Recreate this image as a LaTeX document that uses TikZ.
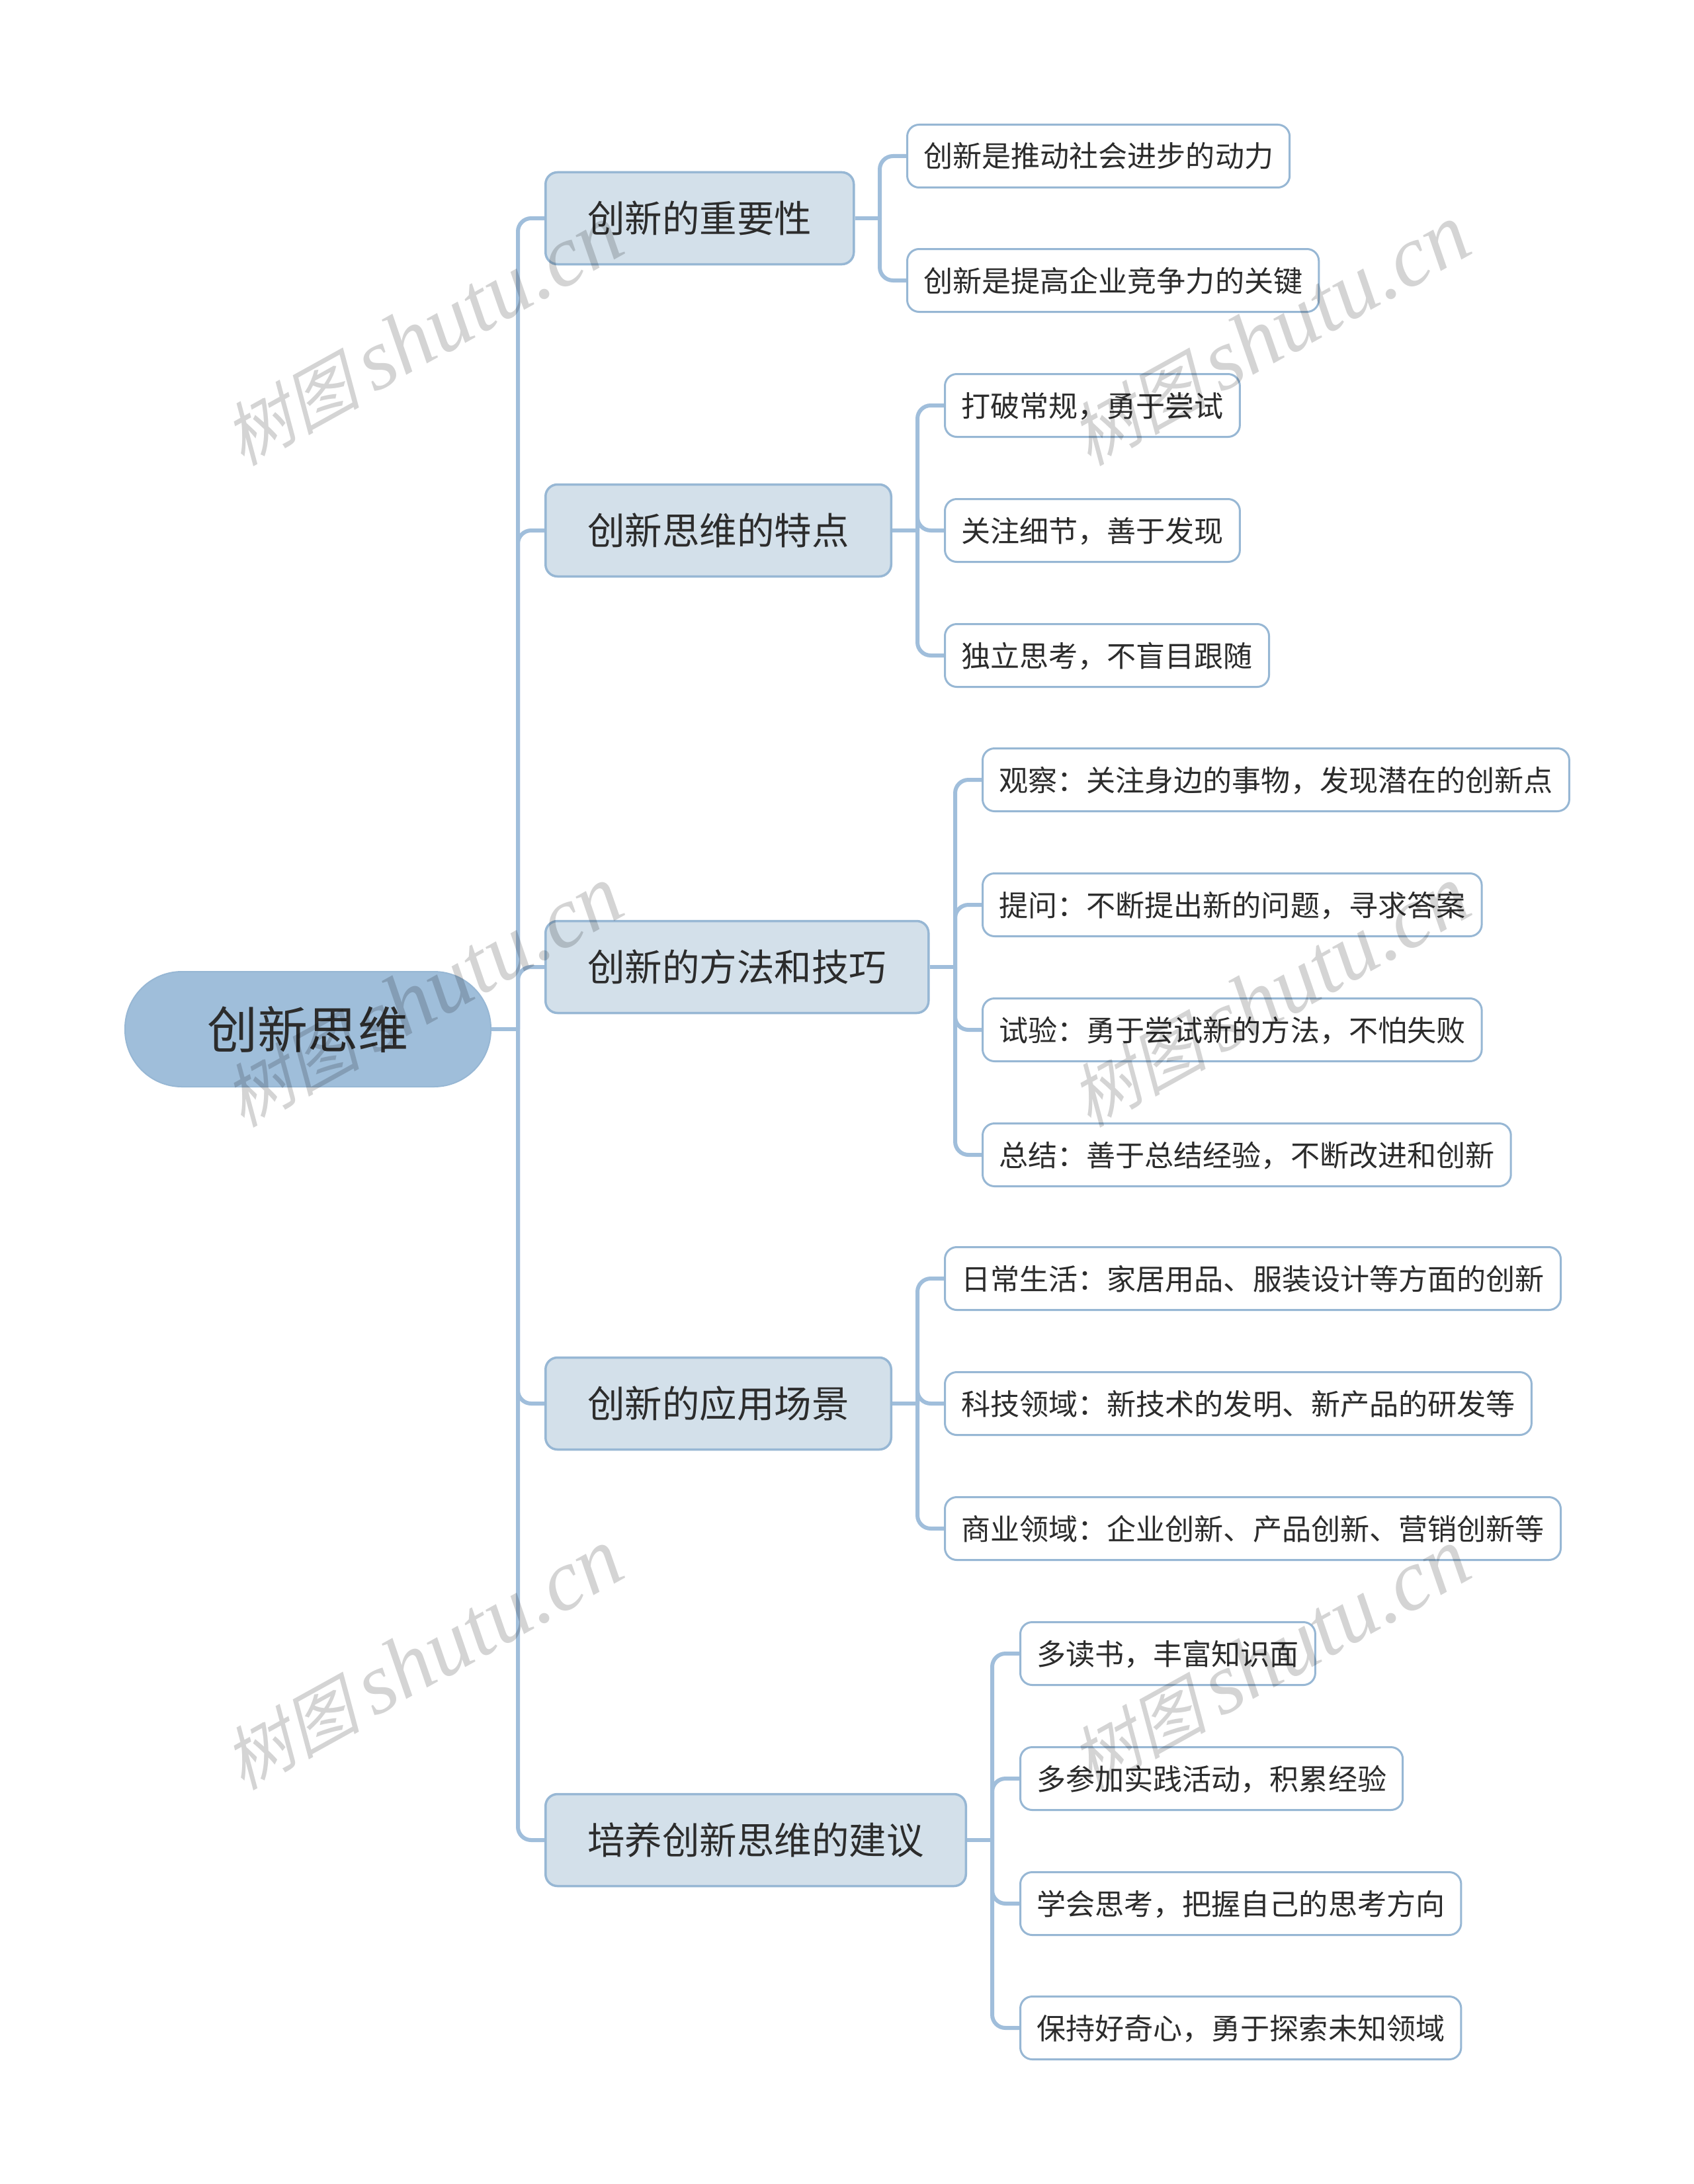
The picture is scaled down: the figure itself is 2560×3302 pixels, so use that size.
\documentclass[tikz,border=0pt]{standalone}
\usepackage{fontspec}
\setmainfont{Noto Sans CJK SC}
\newfontfamily\wmcjk[FakeSlant=0.25]{Noto Sans CJK SC}
\newfontfamily\wmlat{Liberation Serif}
\definecolor{linec}{HTML}{A0BEDB}
\definecolor{rootf}{HTML}{9FBEDA}
\definecolor{midf}{HTML}{D3E0EA}
\definecolor{bordc}{HTML}{97B7D4}
\definecolor{txtc}{HTML}{2C2C2C}
\tikzset{
  rootbox/.style={draw=bordc,line width=2pt,fill=rootf,rounded corners=86pt,minimum width=553pt,minimum height=174pt,inner sep=0pt,text=txtc,font=\fontsize{76}{76}\selectfont,text height=67pt,text depth=9pt},
  midbox/.style={draw=bordc,line width=3.5pt,fill=midf,rounded corners=18pt,anchor=west,minimum height=139pt,inner xsep=63.5pt,inner ysep=0pt,text=txtc,font=\fontsize{56.5}{56.5}\selectfont,text height=49.5pt,text depth=7pt},
  leafbox/.style={draw=bordc,line width=3pt,fill=white,rounded corners=18pt,anchor=west,minimum height=95pt,inner xsep=24.5pt,inner ysep=0pt,text=txtc,font=\fontsize{44.1}{44.1}\selectfont,text height=39pt,text depth=5pt},
  conn/.style={draw=linec,line width=6pt,rounded corners=20pt},
  wmark/.style={rotate=29,text=black,text opacity=0.17,inner sep=0pt}
}
\begin{document}
\begin{tikzpicture}[x=1pt,y=-1pt]
\useasboundingbox (0,0) rectangle (2560,3302);
\fill[white] (0,0) rectangle (2560,3302);
\coordinate (tr) at (783,1556);
\coordinate (s1) at (1330,330);
\coordinate (s2) at (1387,802);
\coordinate (s3) at (1444,1462);
\coordinate (s4) at (1387,2122);
\coordinate (s5) at (1500,2782);
\node[rootbox] (root) at (465.5,1556) {创新思维};
\node[midbox] (m1) at (823,330) {创新的重要性};
\node[midbox] (m2) at (823,802) {创新思维的特点};
\node[midbox] (m3) at (823,1462) {创新的方法和技巧};
\node[midbox] (m4) at (823,2122) {创新的应用场景};
\node[midbox] (m5) at (823,2782) {培养创新思维的建议};
\node[leafbox] (a1) at (1370,236) {创新是推动社会进步的动力};
\node[leafbox] (a2) at (1370,424) {创新是提高企业竞争力的关键};
\node[leafbox] (b1) at (1427,613) {打破常规，勇于尝试};
\node[leafbox] (b2) at (1427,802) {关注细节，善于发现};
\node[leafbox] (b3) at (1427,991) {独立思考，不盲目跟随};
\node[leafbox] (c1) at (1484,1179) {观察：关注身边的事物，发现潜在的创新点};
\node[leafbox] (c2) at (1484,1368) {提问：不断提出新的问题，寻求答案};
\node[leafbox] (c3) at (1484,1557) {试验：勇于尝试新的方法，不怕失败};
\node[leafbox] (c4) at (1484,1746) {总结：善于总结经验，不断改进和创新};
\node[leafbox] (d1) at (1427,1933) {日常生活：家居用品、服装设计等方面的创新};
\node[leafbox] (d2) at (1427,2122) {科技领域：新技术的发明、新产品的研发等};
\node[leafbox] (d3) at (1427,2311) {商业领域：企业创新、产品创新、营销创新等};
\node[leafbox] (e1) at (1541,2500) {多读书，丰富知识面};
\node[leafbox] (e2) at (1541,2689) {多参加实践活动，积累经验};
\node[leafbox] (e3) at (1541,2878) {学会思考，把握自己的思考方向};
\node[leafbox] (e4) at (1541,3066) {保持好奇心，勇于探索未知领域};
\draw[conn] (root.east) -- (tr);
\foreach \m in {m1,m2,m3,m4,m5} \draw[conn] (\m.west) -| (tr);
\draw[conn] (m1.east) -- (s1);
\foreach \c in {a1,a2} \draw[conn] (\c.west) -| (s1);
\draw[conn] (m2.east) -- (s2);
\foreach \c in {b1,b2,b3} \draw[conn] (\c.west) -| (s2);
\draw[conn] (m3.east) -- (s3);
\foreach \c in {c1,c2,c3,c4} \draw[conn] (\c.west) -| (s3);
\draw[conn] (m4.east) -- (s4);
\foreach \c in {d1,d2,d3} \draw[conn] (\c.west) -| (s4);
\draw[conn] (m5.east) -- (s5);
\foreach \c in {e1,e2,e3,e4} \draw[conn] (\c.west) -| (s5);
\foreach \wx/\wy [count=\i] in {639/507,1919/507,639/1507,1919/1507,639/2509,1919/2509}
  \node[wmark] (w\i) at (\wx,\wy) {{\fontsize{104}{104}\selectfont\wmcjk 树图}\hspace{20pt}{\fontsize{131}{131}\selectfont\wmlat\itshape shutu.cn}};
\end{tikzpicture}
\end{document}
